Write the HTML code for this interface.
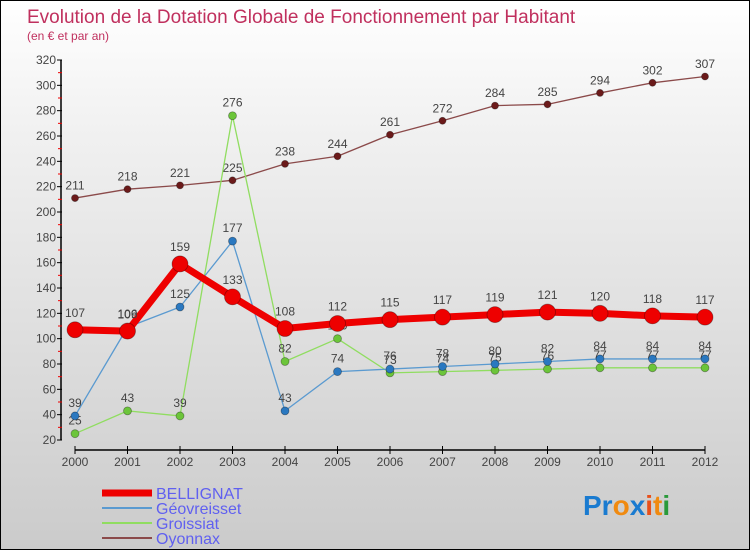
<!DOCTYPE html>
<html><head><meta charset="utf-8"><style>
html,body{margin:0;padding:0}
body{width:750px;height:550px;overflow:hidden;font-family:"Liberation Sans",sans-serif}
#wrap{position:relative;width:748px;height:548px;border:1px solid #000;background:linear-gradient(#fff,#f0f0f0 25%,#cbcbcb)}
</style></head><body>
<div id="wrap">
<svg id="chart" width="748" height="548" style="position:absolute;left:0;top:0">
<text x="26" y="22" font-size="19" fill="#c0305e">Evolution de la Dotation Globale de Fonctionnement par Habitant</text>
<text x="26" y="39" font-size="12" fill="#c0305e">(en € et par an)</text>
<g id="axes"></g><g id="series"></g><g id="legend"></g>
<g font-size="28" font-weight="bold">
<text x="582" y="514"><tspan fill="#1a7bd0">Pr</tspan><tspan fill="#f08a10">o</tspan><tspan fill="#1a7bd0">x</tspan><tspan fill="#e8501a">i</tspan><tspan fill="#f08a10">t</tspan><tspan fill="#2a9a3a">i</tspan></text>
</g>
</svg>
</div>
<script>
const years=[2000,2001,2002,2003,2004,2005,2006,2007,2008,2009,2010,2011,2012];
const yTicks=[20,40,60,80,100,120,140,160,180,200,220,240,260,280,300,320];
const bellignat=[107,106,159,133,108,112,115,117,119,121,120,118,117];
const geovreisset=[39,109,125,177,43,74,76,78,80,82,84,84,84];
const groissiat=[25,43,39,276,82,100,73,74,75,76,77,77,77];
const oyonnax=[211,218,221,225,238,244,261,272,284,285,294,302,307];
const NS="http://www.w3.org/2000/svg";
function X(i){return 74+i*52.5;}
function Y(v){return 439-(v-20)*380/300;}
function mk(tag,attrs,parent){const e=document.createElementNS(NS,tag);for(const k in attrs)e.setAttribute(k,attrs[k]);parent.appendChild(e);return e;}
const axes=document.getElementById('axes');
let ya=mk('line',{x1:60,y1:Y(320),x2:60,y2:Y(20),stroke:'#000','stroke-width':1.5},axes);


yTicks.forEach((t,i)=>{
  mk('line',{x1:56,y1:Y(t),x2:61,y2:Y(t),stroke:'#000'},axes);
  if(i<yTicks.length-1) mk('line',{x1:57,y1:Y(t+10),x2:61,y2:Y(t+10),stroke:'#e00'},axes);
  const tx=mk('text',{x:55,y:Y(t)+4,'font-size':12,fill:'#444','text-anchor':'end'},axes);
  tx.textContent=t;
  
  
});
let xa=mk('line',{x1:X(0),y1:449,x2:X(12),y2:449,stroke:'#000','stroke-width':1.5},axes);


years.forEach((y,i)=>{
  mk('line',{x1:X(i),y1:445,x2:X(i),y2:453,stroke:'#000'},axes);
  const tx=mk('text',{x:X(i),y:465,'font-size':12,fill:'#444','text-anchor':'middle'},axes);
  tx.textContent=y;
  
  
});
const sg=document.getElementById('series');
function drawSeries(name,vals,color,w,r,dot){
  const g=mk('g',{},sg);
  
  
  mk('polyline',{points:vals.map((v,i)=>X(i)+','+Y(v)).join(' '),fill:'none',stroke:color,'stroke-width':w,'stroke-linejoin':'round'},g);
  vals.forEach((v,i)=>{
    const c=mk('circle',{cx:X(i),cy:Y(v),r:r,fill:dot,stroke:'rgba(0,0,0,0.35)','stroke-width':0.8},g);
    
    
    const t=mk('text',{x:X(i),y:Y(v)-r-5,'font-size':12,fill:'#444','text-anchor':'middle'},g);
    t.textContent=v;
    
    
  });
}
drawSeries('oyonnax',oyonnax,'#8b4a4a',1.3,3.5,'#6b1a1a');
drawSeries('groissiat',groissiat,'#90dd60',1.3,4,'#6cc53a');
drawSeries('geovreisset',geovreisset,'#5a9ad0',1.3,4,'#2a78c0');
drawSeries('bellignat',bellignat,'#ee0000',7,8,'#ee0000');
const lg=document.getElementById('legend');
const leg=[['BELLIGNAT','#ee0000',7],['Géovreisset','#5a9ad0',2],['Groissiat','#90dd60',2],['Oyonnax','#8b4a4a',2]];
leg.forEach((l,i)=>{
  const yy=492+i*15;
  const g=mk('g',{},lg);
  
  
  mk('line',{x1:101,y1:yy,x2:151,y2:yy,stroke:l[1],'stroke-width':l[2]},g);
  const t=mk('text',{x:155,y:yy+6,'font-size':16,fill:'#6060f0'},g);
  t.textContent=l[0];
});
</script>
</body></html>
